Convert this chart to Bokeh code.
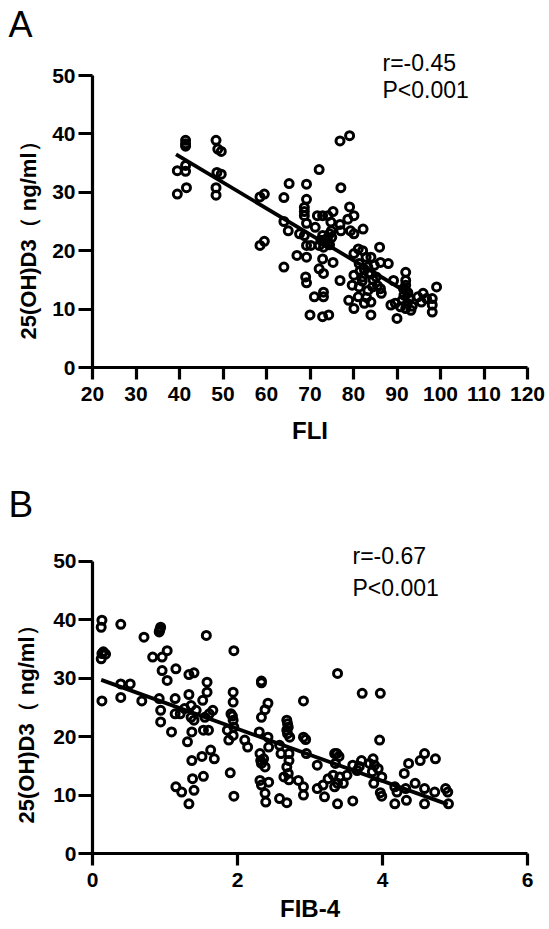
from bokeh.plotting import figure
from bokeh.models import Range1d, FixedTicker, Label, Title
from bokeh.layouts import column
from bokeh.embed import file_html
from bokeh.resources import INLINE

FONT = "Liberation Sans"

# ---------------- data ----------------
y_ticks = [0, 10, 20, 30, 40, 50]
fli_ticks = [20, 30, 40, 50, 60, 70, 80, 90, 100, 110, 120]
fib_ticks = [0, 2, 4, 6]

fli_x = [39.5, 39.5, 41.4, 41.4, 41.4, 41.4, 41.4, 41.6,
         48.4, 48.8, 49.6, 48.6, 49.6, 48.4, 48.4,
         58.5, 59.5, 58.5, 59.5,
         65.2, 64.0, 64.0, 65.0, 64.0, 67.0, 67.6,
         69.2, 69.2, 68.7, 68.7, 68.7, 69.2, 68.7, 69.2, 70.2, 69.2, 69.0, 69.2,
         72.1, 71.2, 71.7, 72.9, 74.1, 72.9, 73.7, 74.5, 74.9, 75.3, 74.8, 72.1,
         73.1, 74.1, 72.9, 75.3, 72.1, 73.1, 71.0, 73.1, 73.1, 70.0, 72.9, 74.3,
         76.9, 79.1, 77.1, 79.1, 78.7, 80.1, 76.9, 77.1, 79.3, 82.2, 80.1, 76.9,
         81.1, 82.1, 80.1, 82.9, 84.0, 86.0, 81.3, 83.3, 84.8, 86.2, 88.0,
         80.1, 82.1, 84.0, 85.2, 79.7, 81.3, 83.3, 84.4, 86.2, 86.4,
         78.9, 81.1, 82.5, 84.0, 80.1, 84.0,
         89.2, 88.6, 89.6, 90.0,
         92.0, 92.0, 92.0, 92.0, 91.6, 91.2, 92.4, 92.0, 93.2, 90.8,
         94.8, 96.0, 96.8, 95.6, 98.1, 98.1, 98.1, 99.1,
         73.5, 74.0, 74.5, 72.5, 75.0, 81.5, 82.5, 83.5, 84.5, 82.0,
         92.5, 91.5, 92.8, 93.5, 85.5, 83.0]
fli_y = [33.7, 29.7, 38.9, 38.3, 37.9, 34.6, 33.6, 30.8,
         38.9, 37.4, 37.0, 33.4, 33.1, 30.8, 29.5,
         29.2, 29.7, 20.9, 21.6,
         31.5, 29.1, 25.0, 23.4, 17.2, 19.2, 22.9,
         31.4, 28.8, 27.4, 26.7, 26.0, 24.7, 22.6, 20.9, 20.9, 18.9, 15.5, 14.5,
         33.9, 24.0, 26.0, 26.0, 26.0, 22.6, 22.0, 22.9, 23.4, 26.7, 24.9, 20.9,
         20.6, 21.2, 18.6, 18.0, 16.9, 16.1, 12.1, 12.9, 12.1, 9.0, 8.7, 9.0,
         38.8, 39.7, 30.8, 27.5, 25.4, 26.0, 24.5, 23.4, 23.4, 23.7, 22.9, 14.9,
         20.3, 20.0, 19.5, 18.9, 18.9, 20.6, 17.8, 17.2, 17.5, 18.0, 17.8,
         15.8, 15.5, 16.1, 15.5, 14.1, 13.8, 13.2, 13.8, 13.5, 12.7,
         11.5, 12.1, 11.0, 11.2, 10.1, 9.0,
         14.9, 10.7, 11.0, 8.4,
         16.3, 14.9, 14.1, 13.2, 12.4, 11.5, 11.0, 10.1, 9.8, 10.4,
         12.1, 12.7, 11.8, 11.2, 11.8, 10.7, 9.5, 13.8,
         21.5, 22.0, 21.0, 21.8, 22.3, 16.5, 16.8, 16.2, 15.0, 14.8,
         12.8, 13.5, 11.8, 10.5, 14.0, 12.0]

fib_x = [0.13, 0.12, 0.13, 0.18, 0.12, 0.15, 0.13,
         0.39, 0.39, 0.52, 0.39, 0.68, 0.71, 0.83,
         0.92, 0.94, 0.93, 0.96, 1.03, 0.96, 1.03, 0.92, 0.94, 0.94,
         1.09, 1.15, 1.14, 1.14, 1.21, 1.27, 1.15, 1.23, 1.31,
         1.33, 1.40, 1.33, 1.36, 1.43, 1.36, 1.40, 1.37, 1.37, 1.38, 1.40, 1.33,
         1.52, 1.58, 1.58, 1.57, 1.55, 1.61, 1.66, 1.53, 1.60, 1.63, 1.68, 1.51, 1.53,
         1.95, 1.94, 1.94, 1.91, 1.93, 1.94, 1.86, 1.95, 1.94, 1.88, 2.10, 2.14, 1.90, 1.95,
         2.33, 2.33, 2.30, 2.33, 2.38, 2.42, 2.31, 2.32, 2.33, 2.36, 2.38, 2.42, 2.43,
         2.31, 2.33, 2.43, 2.38, 2.39,
         2.58, 2.60, 2.64, 2.58, 2.68,
         2.68, 2.69, 2.70, 2.68, 2.69, 2.72, 2.71, 2.71, 2.68, 2.70, 2.71,
         2.91, 2.91, 2.94, 2.95, 2.84, 2.91, 2.91,
         3.10, 3.10, 3.18, 3.20, 3.25, 3.32, 3.38,
         3.34, 3.37, 3.40, 3.35, 3.34, 3.38, 3.46, 3.51, 3.41, 3.38,
         3.59, 3.59, 3.65, 3.68, 3.72, 3.71, 3.82,
         3.87, 3.89, 3.86, 3.88, 3.94, 3.97, 3.96, 3.99, 3.97, 3.99,
         4.17, 4.17, 4.20, 4.32, 4.30, 4.36, 4.33, 4.45, 4.52, 4.58,
         4.58, 4.58, 4.72, 4.73, 4.87, 4.90, 4.91]
fib_y = [39.9, 38.7, 34.2, 34.1, 33.3, 34.5, 26.1,
         39.2, 29.0, 29.0, 26.7, 26.1, 37.0, 33.6,
         37.9, 38.7, 38.3, 33.6, 34.7, 31.3, 29.6, 26.5, 24.5, 22.5,
         20.8, 31.6, 26.5, 23.9, 23.9, 24.8, 11.4, 10.5, 19.1,
         30.6, 30.9, 27.2, 25.3, 24.5, 23.3, 22.8, 20.8, 15.9, 12.8, 10.8, 8.5,
         26.2, 29.3, 27.6, 37.3, 23.3, 23.9, 24.5, 21.1, 21.1, 17.7, 16.2, 16.6, 13.2,
         34.7, 27.6, 25.9, 23.9, 23.5, 22.8, 21.1, 21.6, 20.2, 19.4, 19.4, 18.2, 13.8, 9.8,
         29.5, 29.2, 20.8, 23.3, 24.6, 25.7, 17.1, 15.9, 15.4, 16.2, 14.8, 19.9, 18.2,
         12.5, 11.7, 12.2, 10.3, 8.8,
         18.5, 17.1, 13.1, 9.4, 8.7,
         22.8, 22.2, 21.6, 21.1, 20.5, 19.9, 17.1, 15.9, 14.8, 13.7, 12.6,
         26.1, 19.9, 19.5, 17.1, 12.5, 11.4, 10.0,
         15.1, 11.1, 11.7, 9.7, 12.8, 13.4, 30.8,
         17.1, 17.1, 16.6, 15.4, 11.4, 12.0, 12.0, 13.4, 13.1, 8.5,
         9.0, 15.1, 14.2, 14.9, 27.4, 15.9, 15.4,
         16.2, 15.1, 14.0, 12.0, 14.5, 27.4, 19.4, 13.1, 10.4, 9.8,
         11.4, 8.5, 10.5, 11.1, 13.7, 15.4, 9.1, 12.0, 15.9, 17.1,
         8.5, 11.1, 10.5, 16.2, 11.1, 10.5, 8.5]

fli_fit_x = [39.2, 91.8]
fli_fit_y = [36.5, 13.1]
fib_fit_x = [0.12, 4.9]
fib_fit_y = [29.7, 8.4]

y_label = "25(OH)D3（ ng/ml）"


def make_panel(xs, ys, fx, fy, x_range, x_ticks, x_label, letter, r_text,
               height, b_left, frame_w, b_top, frame_h, y_top,
               x_lab_standoff, ylab_offset, ylab_standoff, y_tick_standoff,
               letter_offset, letter_size, letter_standoff, r_pos, p_pos):
    width = 549
    p = figure(width=width, height=height, output_backend="svg",
               toolbar_location=None,
               x_range=Range1d(*x_range), y_range=Range1d(0, y_top),
               min_border_left=b_left, min_border_right=width - b_left - frame_w,
               min_border_top=b_top,
               min_border_bottom=height - b_top - frame_h)
    p.outline_line_color = None
    p.background_fill_color = "white"
    p.border_fill_color = "white"
    p.xgrid.visible = False
    p.ygrid.visible = False

    p.title.text = letter
    p.title.text_font = FONT
    p.title.text_font_size = letter_size
    p.title.text_font_style = "normal"
    p.title.text_color = "black"
    p.title.align = "left"
    p.title.vertical_align = "bottom"
    p.title.standoff = letter_standoff
    p.title.offset = letter_offset

    for ax, ticks in ((p.xaxis[0], x_ticks), (p.yaxis[0], y_ticks)):
        ax.ticker = FixedTicker(ticks=ticks)
        ax.axis_line_width = 3.2
        ax.axis_line_color = "black"
        ax.major_tick_line_width = 3.2
        ax.major_tick_line_color = "black"
        ax.major_tick_in = 0
        ax.minor_tick_line_color = None
        ax.major_label_text_font = FONT
        ax.major_label_text_font_style = "bold"
        ax.major_label_text_font_size = "21px"
        ax.major_label_text_color = "black"
        ax.axis_label_text_font = FONT
        ax.axis_label_text_font_style = "bold"
        ax.axis_label_text_color = "black"

    p.yaxis[0].bounds = (0, 50)
    p.xaxis[0].bounds = x_range

    p.xaxis[0].major_tick_out = 12
    p.xaxis[0].major_label_standoff = 7
    p.xaxis[0].axis_label = x_label
    p.xaxis[0].axis_label_text_font_size = "24px"
    p.xaxis[0].axis_label_standoff = x_lab_standoff

    p.yaxis[0].major_tick_out = 14
    p.yaxis[0].major_label_standoff = y_tick_standoff

    # y-axis title, centred on the 0-50 axis span (not on the taller frame)
    p.add_layout(Title(text=y_label, text_font=FONT, text_font_size="22px",
                       text_font_style="bold", text_color="black",
                       align="left", vertical_align="bottom",
                       offset=ylab_offset, standoff=ylab_standoff), "left")

    p.line(fx, fy, line_color="black", line_width=3.8)
    p.scatter(xs, ys, marker="circle", size=8, fill_color=None,
              line_color="black", line_width=3.0)

    p.add_layout(Label(x=r_pos[0], y=r_pos[1], x_units="screen",
                       y_units="screen", text=r_text, text_font=FONT,
                       text_font_size="23px", text_color="black",
                       text_baseline="alphabetic"))
    p.add_layout(Label(x=p_pos[0], y=p_pos[1], x_units="screen",
                       y_units="screen", text="P<0.001", text_font=FONT,
                       text_font_size="23px", text_color="black",
                       text_baseline="alphabetic"))
    return p


# Panel A: frame 87..527 (x), 44..367 (y); y=50 sits at 75 px
pA = make_panel(fli_x, fli_y, fli_fit_x, fli_fit_y, (20, 120), fli_ticks,
                "FLI", "A", "r=-0.45",
                height=470, b_left=87, frame_w=440, b_top=44, frame_h=323,
                y_top=55.31, x_lab_standoff=13,
                ylab_offset=28, ylab_standoff=17, y_tick_standoff=3,
                letter_offset=-84, letter_size="36px", letter_standoff=0,
                r_pos=(290, 305), p_pos=(290, 278))

# Panel B: frame 91..530 (x), 62..383 (y, canvas of B); y=50 at 90.7 px
pB = make_panel(fib_x, fib_y, fib_fit_x, fib_fit_y, (0, 6), fib_ticks,
                "FIB-4", "B", "r=-0.67",
                height=459, b_left=91, frame_w=439, b_top=62, frame_h=321,
                y_top=54.91, x_lab_standoff=5,
                ylab_offset=30, ylab_standoff=23, y_tick_standoff=2,
                letter_offset=-84, letter_size="37px", letter_standoff=16,
                r_pos=(260, 298), p_pos=(260, 266))

layout = column(pA, pB, spacing=0)
open("out.html", "w").write(file_html(layout, INLINE))
